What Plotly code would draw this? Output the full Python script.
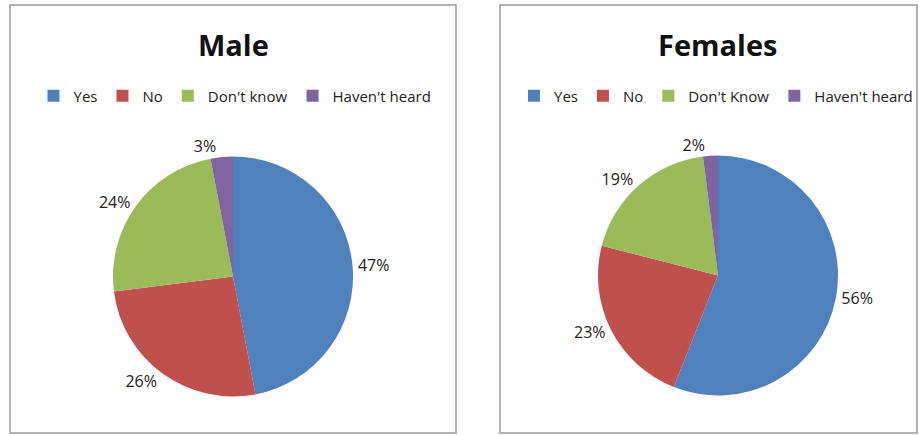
import plotly.graph_objects as go

male_labels = ["Yes", "No", "Don't know", "Haven't heard"]
male_values = [47, 26, 24, 3]
# zero-width space keeps the female legend entries separate from the male ones
female_labels = ["Yes\u200b", "No\u200b", "Don't Know", "Haven't heard\u200b"]
female_values = [56, 23, 19, 2]
colors = ["#4F81BD", "#C0504D", "#9BBB59", "#8064A2"]

W, H = 923, 435
FONT = "Open Sans"

fig = go.Figure()

fig.add_trace(go.Pie(
    labels=male_labels, values=male_values, sort=False, direction="clockwise",
    marker=dict(colors=colors), textposition="outside", texttemplate="%{value}%",
    textfont=dict(size=16, color="#222", family=FONT),
    domain=dict(x=[0.1008, 0.4041], y=[0.0885, 0.6402]), legend="legend",
    showlegend=True, hoverinfo="label+percent",
))
fig.add_trace(go.Pie(
    labels=female_labels, values=female_values, sort=False, direction="clockwise",
    marker=dict(colors=colors), textposition="outside", texttemplate="%{value}%",
    textfont=dict(size=16, color="#222", family=FONT),
    domain=dict(x=[0.6262, 0.9296], y=[0.0908, 0.6425]), legend="legend2",
    showlegend=True, hoverinfo="label+percent",
))

fig.update_layout(
    width=W, height=H, margin=dict(l=0, r=0, t=0, b=0, autoexpand=False),
    paper_bgcolor="white", plot_bgcolor="white",
    font=dict(family=FONT, size=16, color="#222"),
    legend=dict(orientation="h", x=235/W, xanchor="center", y=1-96/H, yanchor="middle",
                font=dict(size=15, family=FONT, color="#222"), itemwidth=30,
                tracegroupgap=0, itemclick=False, bgcolor="rgba(0,0,0,0)"),
    legend2=dict(orientation="h", x=716/W, xanchor="center", y=1-96/H, yanchor="middle",
                 font=dict(size=15, family=FONT, color="#222"), itemwidth=30,
                 tracegroupgap=0, itemclick=False, bgcolor="rgba(0,0,0,0)"),
    annotations=[
        dict(text="<b>Male</b>", x=233/W, y=1-45/H, xref="paper", yref="paper",
             xanchor="center", yanchor="middle",
             showarrow=False, font=dict(size=29, family=FONT, color="#111")),
        dict(text="<b>Females</b>", x=717/W, y=1-45/H, xref="paper", yref="paper",
             xanchor="center", yanchor="middle",
             showarrow=False, font=dict(size=29, family=FONT, color="#111")),
    ],
    shapes=[
        dict(type="rect", xref="paper", yref="paper", x0=10/W, x1=456/W, y0=1-433/H, y1=1-5/H,
             line=dict(color="#999", width=1.5), fillcolor="rgba(0,0,0,0)", layer="below"),
        dict(type="rect", xref="paper", yref="paper", x0=500/W, x1=917/W, y0=1-433/H, y1=1-5/H,
             line=dict(color="#999", width=1.5), fillcolor="rgba(0,0,0,0)", layer="below"),
    ],
)

fig.write_html("out.html", config={"displayModeBar": False},
               post_script="document.body.style.margin='0';document.body.style.overflow='hidden';")
